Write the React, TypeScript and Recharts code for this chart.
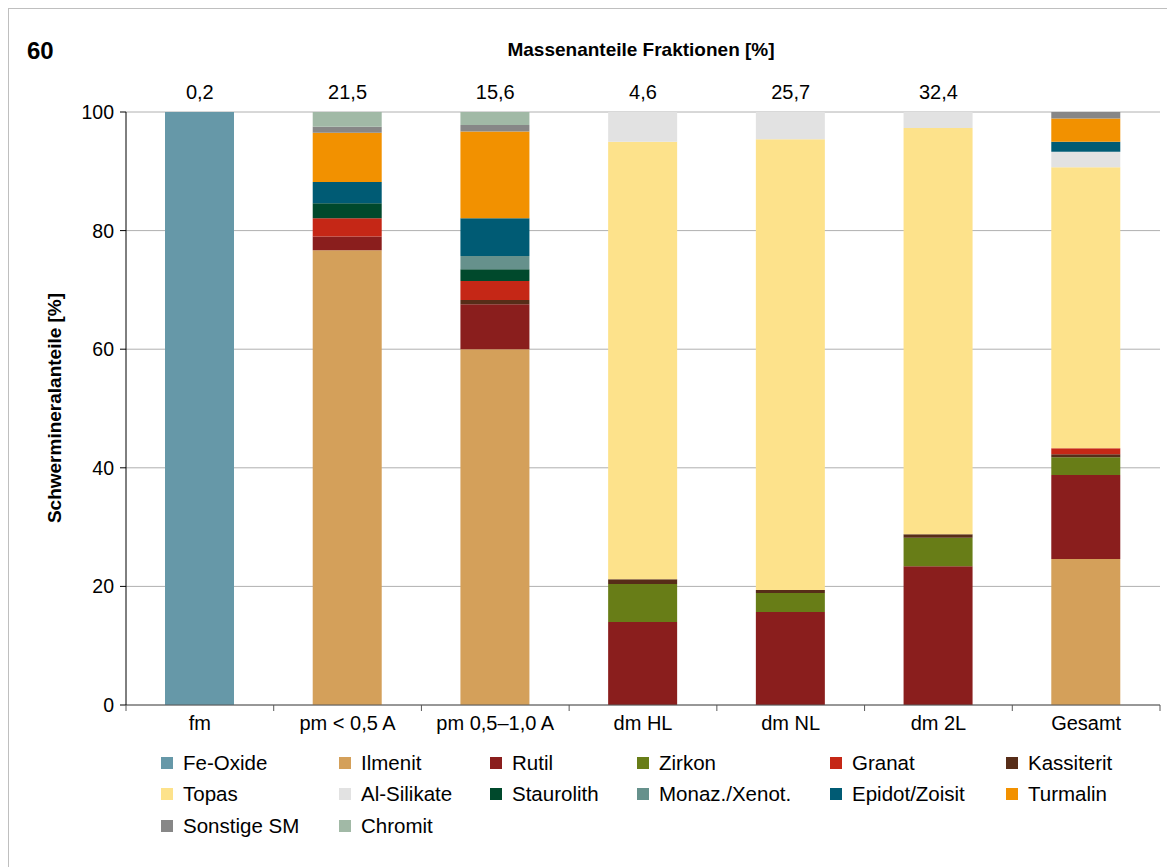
import React from "react";
import { Bar, BarChart, CartesianGrid, XAxis, YAxis } from "recharts";

const categories = ["fm", "pm < 0,5 A", "pm 0,5–1,0 A", "dm HL", "dm NL", "dm 2L", "Gesamt"];
const massShares = ["0,2", "21,5", "15,6", "4,6", "25,7", "32,4", ""];
const yTicks = [0, 20, 40, 60, 80, 100];

// values per category, % of heavy minerals
const feOxide = [100, 0, 0, 0, 0, 0, 0];
const ilmenit = [0, 76.7, 60.0, 0, 0, 0, 24.6];
const rutil = [0, 2.3, 7.6, 14.0, 15.7, 23.4, 14.2];
const zirkon = [0, 0, 0, 6.4, 3.2, 4.8, 3.0];
const kassiterit = [0, 0, 0.7, 0.8, 0.5, 0.6, 0.5];
const granat = [0, 3.1, 3.2, 0, 0, 0, 1.0];
const topas = [0, 0, 0, 73.8, 76.0, 68.5, 47.4];
const alSilikate = [0, 0, 0, 5.0, 4.6, 2.7, 2.6];
const staurolith = [0, 2.5, 2.0, 0, 0, 0, 0];
const monazit = [0, 0, 2.2, 0, 0, 0, 0];
const epidot = [0, 3.6, 6.4, 0, 0, 0, 1.7];
const turmalin = [0, 8.3, 14.6, 0, 0, 0, 3.9];
const sonstige = [0, 1.0, 1.1, 0, 0, 0, 1.1];
const chromit = [0, 2.5, 2.2, 0, 0, 0, 0];

// stacking order, bottom to top
const SERIES = [
  { key: "Fe-Oxide", values: feOxide, color: "#6698a8" },
  { key: "Ilmenit", values: ilmenit, color: "#d4a05a" },
  { key: "Rutil", values: rutil, color: "#8a1e1d" },
  { key: "Zirkon", values: zirkon, color: "#687d17" },
  { key: "Kassiterit", values: kassiterit, color: "#572d18" },
  { key: "Granat", values: granat, color: "#c52716" },
  { key: "Topas", values: topas, color: "#fde28b" },
  { key: "Al-Silikate", values: alSilikate, color: "#e2e2e2" },
  { key: "Staurolith", values: staurolith, color: "#00492c" },
  { key: "Monaz./Xenot.", values: monazit, color: "#66918c" },
  { key: "Epidot/Zoisit", values: epidot, color: "#005b74" },
  { key: "Turmalin", values: turmalin, color: "#f29100" },
  { key: "Sonstige SM", values: sonstige, color: "#878787" },
  { key: "Chromit", values: chromit, color: "#a1b9a6" },
];

const legendRows = [
  ["Fe-Oxide", "Ilmenit", "Rutil", "Zirkon", "Granat", "Kassiterit"],
  ["Topas", "Al-Silikate", "Staurolith", "Monaz./Xenot.", "Epidot/Zoisit", "Turmalin"],
  ["Sonstige SM", "Chromit"],
];

const FONT = "'Liberation Sans', Arial, sans-serif";
const legendCols = [152, 330, 481, 628, 821, 997];
const legendRowY = [754, 785, 817];

const rows = categories.map((name, i) => {
  const row: Record<string, number | string> = { name };
  for (const s of SERIES) row[s.key] = s.values[i];
  return row;
});

function CategoryTick(props: any) {
  const { x, y, payload } = props;
  const half = payload.offset || 74;
  const last = payload.index === categories.length - 1;
  return (
    <g>
      <line x1={x - half} x2={x - half} y1={y} y2={y + 6} stroke="#595959" />
      {last && <line x1={x + half} x2={x + half} y1={y} y2={y + 6} stroke="#595959" />}
      <text x={x} y={y + 11} dy="0.71em" textAnchor="middle" fontSize={20} fill="#000" fontFamily={FONT}>
        {payload.value}
      </text>
    </g>
  );
}

export default function App() {
  const colorOf = (k: string) => SERIES.find((s) => s.key === k)?.color;
  return (
    <div
      style={{
        position: "relative",
        width: 1166,
        height: 858,
        borderTop: "1px solid #bfbfbf",
        borderLeft: "1px solid #bfbfbf",
        fontFamily: FONT,
        color: "#000",
        background: "#fff",
      }}
    >
      <BarChart
        width={1166}
        height={858}
        data={rows}
        margin={{ top: 73, right: 15, bottom: 122, left: 57 }}
        barSize={69}
      >
        <CartesianGrid stroke="#b0b0b0" vertical={false} />
        <XAxis
          dataKey="name"
          xAxisId="top"
          orientation="top"
          height={30}
          axisLine={false}
          tickLine={false}
          tickSize={0}
          tickMargin={13}
          tickFormatter={(_v: string, i: number) => massShares[i]}
          tick={{ fontSize: 20, fill: "#000", fontFamily: FONT }}
        />
        <XAxis
          dataKey="name"
          height={40}
          axisLine={{ stroke: "#595959" }}
          tickLine={false}
          tickSize={0}
          tickMargin={0}
          tick={<CategoryTick />}
          interval={0}
        />
        <YAxis
          width={60}
          domain={[0, 100]}
          ticks={yTicks}
          interval={0}
          axisLine={{ stroke: "#000" }}
          tickLine={{ stroke: "#000" }}
          tickSize={6}
          tickMargin={6}
          tick={{ fontSize: 19.5, fill: "#000", fontFamily: FONT }}
        />
        {SERIES.map((s) => (
          <Bar key={s.key} dataKey={s.key} stackId="a" fill={s.color} isAnimationActive={false} />
        ))}
      </BarChart>

      <div style={{ position: "absolute", left: 18, top: 30, fontSize: 24, fontWeight: "bold", lineHeight: 1 }}>60</div>
      <div
        style={{
          position: "absolute",
          left: 432,
          width: 400,
          top: 31,
          textAlign: "center",
          fontSize: 19,
          fontWeight: "bold",
          lineHeight: 1,
        }}
      >
        Massenanteile Fraktionen [%]
      </div>
      <div
        style={{
          position: "absolute",
          left: 45,
          top: 399,
          transform: "translate(-50%, -50%) rotate(-90deg)",
          whiteSpace: "nowrap",
          fontSize: 19,
          fontWeight: "bold",
          lineHeight: 1,
        }}
      >
        Schwermineralanteile [%]
      </div>

      {legendRows.map((r, ri) =>
        r.map((k, ci) => (
          <div
            key={k}
            style={{
              position: "absolute",
              left: legendCols[ci],
              top: legendRowY[ri] - 12,
              height: 24,
              display: "flex",
              alignItems: "center",
              fontSize: 20.5,
              whiteSpace: "nowrap",
            }}
          >
            <span style={{ width: 12, height: 12, background: colorOf(k), marginRight: 10, display: "inline-block" }} />
            {k}
          </div>
        ))
      )}
    </div>
  );
}
